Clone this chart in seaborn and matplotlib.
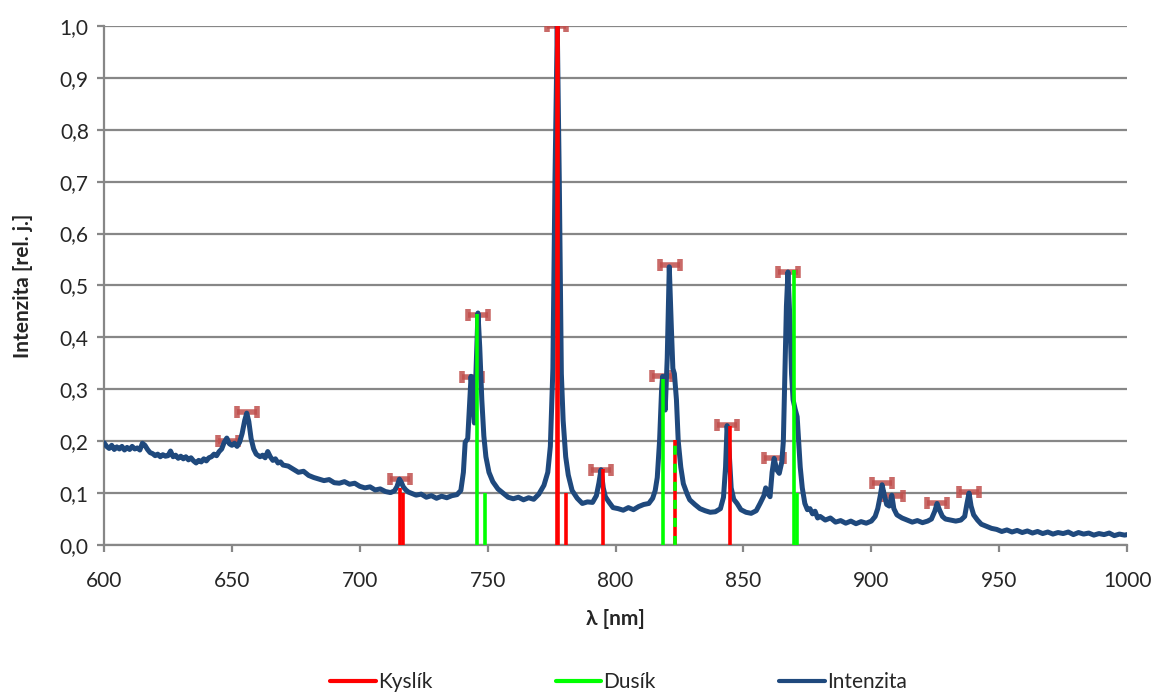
import numpy as np
import pandas as pd
import matplotlib
matplotlib.use("Agg")
import matplotlib.pyplot as plt
from matplotlib.lines import Line2D
from matplotlib.ticker import FuncFormatter, MultipleLocator
import seaborn as sns

# spectrum (nm, rel. intensity)
wavelength = [
    600, 601, 602, 603, 604, 605, 606, 607, 608, 609, 610, 611, 612, 613, 614, 615,
    616, 617, 618, 619, 620, 621, 622, 623, 624, 625, 626, 627, 628, 629, 630, 631,
    632, 633, 634, 635, 636, 637, 638, 639, 640, 641, 642, 643, 644, 645, 646, 647,
    648, 649, 650, 651, 652, 653, 654, 655, 655.8, 656.6, 657.5, 658.5, 659.5, 661,
    662, 663, 664, 665, 666, 667, 668, 669, 670, 672, 674, 676, 678, 680, 682, 684,
    686, 688, 690, 692, 694, 696, 698, 700, 702, 704, 706, 708, 710, 712, 713.5,
    714.5, 715.5, 716.3, 717, 718, 719, 720, 722, 724, 726, 728, 730, 732, 734, 736,
    738, 739.5, 740.5, 741.2, 742.2, 742.8, 743.5, 744.2, 744.8, 745.4, 746.2, 746.9,
    747.7, 748.5, 749.3, 750.5, 752, 754, 756, 758, 760, 762, 764, 766, 768, 770,
    772, 773.5, 774.5, 775.5, 776.3, 777.2, 778, 778.8, 779.5, 780.5, 781.5, 783,
    785, 787, 789, 791, 792.5, 793.5, 794.3, 795.2, 796, 797.5, 799, 801, 803, 805,
    807, 809, 811, 813, 814.5, 815.5, 816.3, 817.2, 818, 818.4, 819.4, 820.2, 821,
    821.8, 822.4, 823, 823.8, 824.5, 825.5, 826.5, 828, 829, 831, 833, 835, 837, 839,
    841, 842.2, 843, 843.6, 844.4, 845.2, 846.2, 847.5, 849, 851, 853, 855, 856.5,
    858, 858.7, 859.5, 860.4, 861.2, 862, 863, 864, 865, 865.6, 866.2, 866.8, 867.4,
    868.2, 868.8, 869.4, 870.2, 871, 871.6, 872.2, 873, 874, 875, 876, 877, 878, 879,
    880, 882, 884, 886, 888, 890, 892, 894, 896, 898, 900, 901.5, 902.5, 903.5, 904.2,
    905, 906, 907, 908, 908.8, 910, 912, 914, 916, 918, 920, 922, 923.5, 924.8, 925.7,
    926.6, 927.8, 929, 931, 933, 935, 936.5, 937.4, 938.2, 939, 940, 941.5, 943, 945,
    947, 949, 951, 953, 955, 957, 959, 961, 963, 965, 967, 969, 971, 973, 975, 977,
    979, 981, 983, 985, 987, 989, 991, 993, 995, 997, 999, 1000,
]
intensity = [
    0.197, 0.190, 0.186, 0.192, 0.184, 0.189, 0.185, 0.190, 0.183, 0.188, 0.184, 0.190, 0.185, 0.187, 0.183, 0.196,
    0.192, 0.184, 0.178, 0.176, 0.172, 0.175, 0.170, 0.174, 0.171, 0.172, 0.181, 0.170, 0.173, 0.167, 0.171, 0.166,
    0.170, 0.164, 0.168, 0.162, 0.158, 0.163, 0.160, 0.166, 0.162, 0.168, 0.170, 0.175, 0.172, 0.180, 0.185, 0.198,
    0.206, 0.195, 0.192, 0.196, 0.190, 0.198, 0.215, 0.240, 0.254, 0.238, 0.205, 0.185, 0.175, 0.170,
    0.173, 0.168, 0.180, 0.170, 0.163, 0.166, 0.158, 0.160, 0.154, 0.152, 0.146, 0.140, 0.142, 0.134, 0.130, 0.127,
    0.124, 0.126, 0.120, 0.119, 0.122, 0.117, 0.119, 0.113, 0.110, 0.112, 0.106, 0.108, 0.103, 0.101, 0.104,
    0.112, 0.127, 0.120, 0.112, 0.106, 0.102, 0.100, 0.096, 0.098, 0.092, 0.095, 0.090, 0.094, 0.091, 0.095,
    0.097, 0.105, 0.140, 0.198, 0.205, 0.260, 0.325, 0.280, 0.235, 0.330, 0.447, 0.380,
    0.280, 0.210, 0.170, 0.140, 0.122, 0.108, 0.100, 0.092, 0.089, 0.092, 0.087, 0.091, 0.088, 0.098,
    0.115, 0.140, 0.190, 0.340, 0.700, 1.000, 0.700, 0.330, 0.240, 0.170, 0.135, 0.105,
    0.090, 0.080, 0.083, 0.082, 0.095, 0.120, 0.145, 0.110, 0.093, 0.082, 0.072, 0.070, 0.067, 0.072,
    0.068, 0.074, 0.078, 0.080, 0.090, 0.105, 0.130, 0.200, 0.300, 0.325, 0.260, 0.360, 0.536,
    0.420, 0.340, 0.330, 0.280, 0.200, 0.150, 0.118, 0.098, 0.087, 0.078, 0.070, 0.066, 0.063, 0.064,
    0.070, 0.092, 0.150, 0.230, 0.180, 0.110, 0.088, 0.080, 0.068, 0.063, 0.061, 0.066, 0.080,
    0.095, 0.110, 0.100, 0.093, 0.140, 0.167, 0.145, 0.138, 0.160, 0.200, 0.330, 0.460, 0.526,
    0.430, 0.330, 0.280, 0.262, 0.247, 0.200, 0.150, 0.110, 0.080, 0.068, 0.070, 0.060, 0.065, 0.052,
    0.055, 0.048, 0.052, 0.044, 0.047, 0.042, 0.046, 0.041, 0.045, 0.042, 0.046, 0.055, 0.070, 0.095, 0.116,
    0.098, 0.078, 0.075, 0.096, 0.070, 0.058, 0.052, 0.048, 0.044, 0.047, 0.043, 0.046, 0.050, 0.065, 0.080,
    0.068, 0.055, 0.050, 0.048, 0.046, 0.048, 0.055, 0.080, 0.100, 0.075, 0.058, 0.048, 0.040, 0.036,
    0.032, 0.030, 0.026, 0.029, 0.025, 0.028, 0.024, 0.027, 0.023, 0.026, 0.022, 0.025, 0.021, 0.024, 0.022, 0.025,
    0.020, 0.024, 0.021, 0.023, 0.019, 0.022, 0.020, 0.023, 0.018, 0.021, 0.019, 0.020,
]

# oxygen lines (Kyslík)
o_wl = [715.9, 716.7, 777.2, 777.5, 780.8, 794.9, 844.7]
o_h = [0.11, 0.10, 1.0, 1.0, 0.10, 0.147, 0.23]
# nitrogen lines (Dusík)
n_wl = [745.9, 749.0, 818.6, 869.8, 870.8]
n_h = [0.445, 0.10, 0.32, 0.53, 0.10]
# line shared by both
mix_wl = [823.3]
mix_h = [0.202]

# fitted peaks (marked with error bars)
peak_wl = [648.5, 655.9, 715.7, 743.9, 746.2, 776.9, 794.3, 818.2, 821.3, 843.6,
           862.0, 867.4, 904.2, 908.5, 925.7, 938.2]
peak_h = [0.200, 0.256, 0.128, 0.323, 0.443, 1.0, 0.145, 0.326, 0.540, 0.231,
          0.167, 0.526, 0.119, 0.095, 0.080, 0.102]

sns.set_style("white")
plt.rcParams["font.family"] = ["Lato", "DejaVu Sans"]

RED = "#FF0000"
GREEN = "#00FF00"
BLUE = "#1F497D"
GRID = "#878787"
FS = 15

fig, ax = plt.subplots(figsize=(11.56, 6.93), dpi=100)
fig.subplots_adjust(left=0.09, right=0.975, top=0.9625, bottom=0.2136)

ax.errorbar(peak_wl, peak_h, xerr=3.9, fmt="none", ecolor="#C0504D",
            elinewidth=4, capsize=4.5, capthick=4, alpha=0.85, zorder=2)

spec = pd.DataFrame({"wl": wavelength, "I": intensity})
sns.lineplot(data=spec, x="wl", y="I", color=BLUE, lw=3.6, ax=ax, zorder=3)

ax.vlines(o_wl, 0, o_h, colors=RED, lw=2.6, zorder=4)
ax.vlines(n_wl, 0, n_h, colors=GREEN, lw=2.6, zorder=4)
ax.vlines(mix_wl, 0, mix_h, colors=RED, lw=2.6, zorder=4)
ax.vlines(mix_wl, 0, mix_h, colors=GREEN, lw=2.6, linestyles=(0, (2.5, 2.5)), zorder=5)

ax.set_xlim(600, 1000)
ax.set_ylim(0, 1.0)
ax.xaxis.set_major_locator(MultipleLocator(50))
ax.yaxis.set_major_locator(MultipleLocator(0.1))
ax.yaxis.set_major_formatter(FuncFormatter(lambda v, p: f"{v:.1f}".replace(".", ",")))

ax.grid(axis="y", color=GRID, lw=1.6)
ax.grid(axis="x", visible=False)
ax.set_axisbelow(True)
for s in ["top", "right"]:
    ax.spines[s].set_visible(False)
for s in ["left", "bottom"]:
    ax.spines[s].set_color(GRID)
    ax.spines[s].set_linewidth(1.6)
ax.tick_params(axis="both", direction="out", length=5, width=1.6, color=GRID,
               labelsize=FS, bottom=True, left=True)
ax.tick_params(axis="x", pad=14)
ax.tick_params(axis="y", pad=6)

ax.set_xlabel("λ [nm]", fontsize=FS, fontweight="bold", labelpad=13)
ax.set_ylabel("Intenzita [rel. j.]", fontsize=FS, fontweight="bold", labelpad=19)

handles = [Line2D([], [], color=RED, lw=3), Line2D([], [], color=GREEN, lw=3),
           Line2D([], [], color=BLUE, lw=3)]
fig.legend(handles, ["Kyslík", "Dusík", "Intenzita"], loc="lower center",
           bbox_to_anchor=(0.535, -0.026), ncol=3, frameon=False, fontsize=FS,
           handlelength=2.2, handletextpad=0.1, columnspacing=5.9)

fig.savefig("out.png", dpi=100)
